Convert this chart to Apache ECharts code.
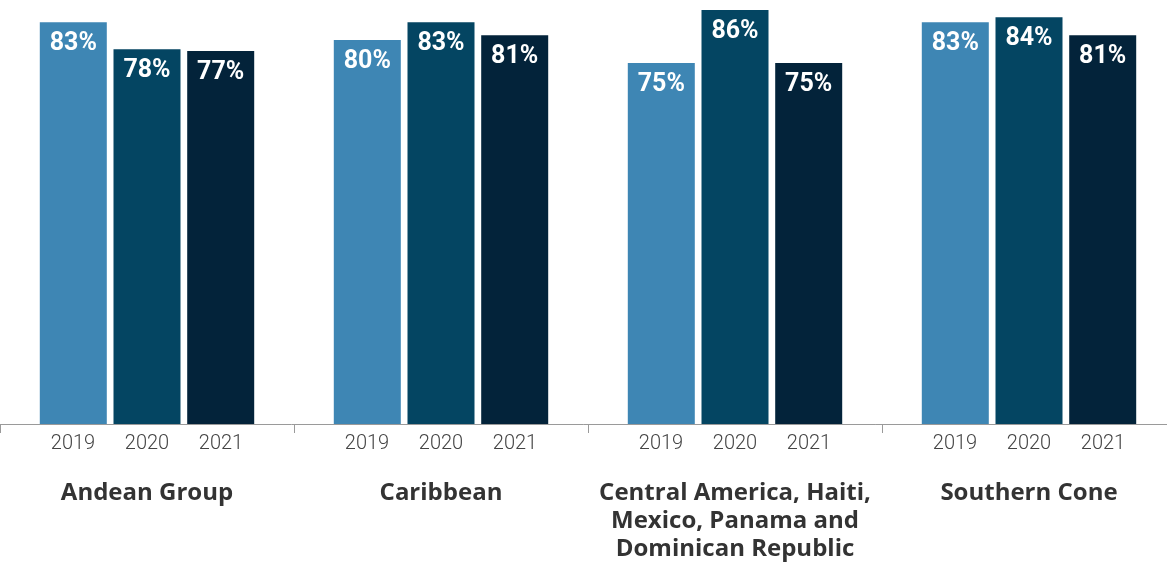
<!DOCTYPE html>
<html><head><meta charset="utf-8">
<script src="https://cdn.jsdelivr.net/npm/echarts@6/dist/echarts.min.js"></script>
<style>html,body{margin:0;padding:0;background:#fff}#c{width:1167px;height:563px}</style>
</head><body><div id="c"></div>
<script>
const groups = ['Andean Group', 'Caribbean', 'Central America, Haiti,\nMexico, Panama and\nDominican Republic', 'Southern Cone'];
const years = ['2019', '2020', '2021'];
// bar heights (labels show the rounded percent)
const v2019 = [83.4, 79.7, 74.9, 83.4];
const v2020 = [77.8, 83.4, 85.9, 84.4];
const v2021 = [77.4, 80.7, 74.9, 80.7];
const colors = ['#3e86b4', '#044562', '#03233a'];

const chart = echarts.init(document.getElementById('c'));
const valueSets = [v2019, v2020, v2021];
chart.setOption({
  animation: false,
  grid: { left: 0, width: 1176, top: 0, bottom: 139, containLabel: false, outerBoundsMode: 'none' },
  xAxis: [{
    type: 'category', data: groups, position: 'bottom',
    axisLine: { lineStyle: { color: '#9a9a9a', width: 1 } },
    axisTick: { show: true, length: 9, lineStyle: { color: '#9a9a9a' } },
    axisLabel: {
      interval: 0, margin: 10,
      formatter: () => years.map(y => '{y|' + y + '}').join(''),
      rich: { y: { width: 74, align: 'center', fontFamily: 'Roboto', fontWeight: 300, fontSize: 20, lineHeight: 20, color: '#444' } }
    }
  }, {
    type: 'category', data: groups, position: 'bottom',
    axisLine: { show: false }, axisTick: { show: false },
    axisLabel: {
      interval: 0, margin: 55, verticalAlign: 'top',
      fontFamily: 'Open Sans', fontWeight: 'bold', fontSize: 24, lineHeight: 28, color: '#333', align: 'center'
    }
  }],
  yAxis: { type: 'value', min: 0, max: 88, show: false, splitLine: { show: false } },
  series: years.map((y, i) => ({
    name: y, type: 'bar', xAxisIndex: 0, data: valueSets[i],
    barWidth: 67, barGap: '10%',
    itemStyle: { color: colors[i] },
    label: { show: true, position: 'insideTop', distance: 9,
      formatter: p => Math.round(p.value) + '%',
      color: '#fff', fontFamily: 'Roboto', fontWeight: 'bold', fontSize: 25 }
  }))
});
</script></body></html>
